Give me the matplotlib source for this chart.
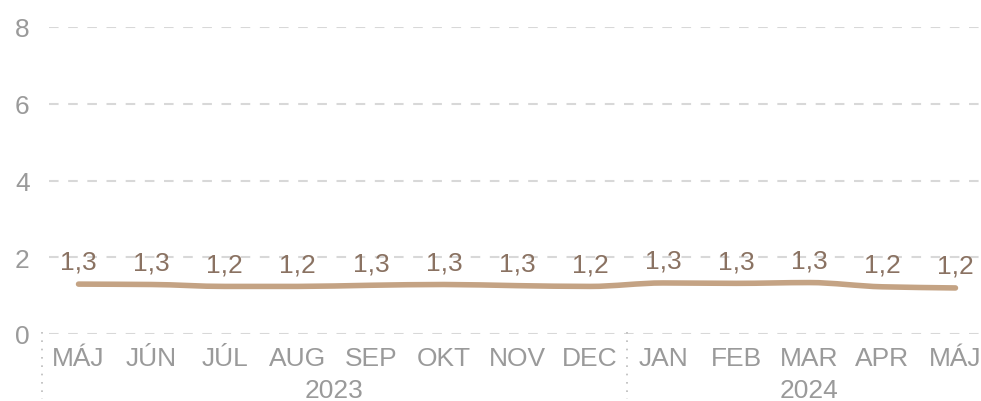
import matplotlib
matplotlib.use("Agg")
import matplotlib.pyplot as plt
from matplotlib.lines import Line2D
from matplotlib.path import Path
from matplotlib.patches import PathPatch

plt.rcParams['font.family'] = ['Liberation Sans', 'DejaVu Sans']

months = ["MÁJ", "JÚN", "JÚL", "AUG", "SEP", "OKT", "NOV", "DEC",
          "JAN", "FEB", "MAR", "APR", "MÁJ"]
years = ["2023", "2024"]
year_sizes = [8, 5]
values = [1.30, 1.29, 1.24, 1.24, 1.27, 1.29, 1.26, 1.24,
          1.33, 1.32, 1.34, 1.23, 1.20]
value_labels = ["1,3", "1,3", "1,2", "1,2", "1,3", "1,3", "1,3", "1,2",
                "1,3", "1,3", "1,3", "1,2", "1,2"]
yticks = [0, 2, 4, 6, 8]

LINE_COLOR = "#c4a384"
LABEL_COLOR = "#8a7262"
AXIS_TEXT = "#9a9a9a"
FS = 19


def monotone_path(xs, ys):
    """Cubic Bezier path with monotone (Fritsch-Carlson) tangents."""
    n = len(xs)
    d = [(ys[i + 1] - ys[i]) / (xs[i + 1] - xs[i]) for i in range(n - 1)]
    m = [0.0] * n
    m[0], m[-1] = d[0], d[-1]
    for i in range(1, n - 1):
        if d[i - 1] * d[i] <= 0:
            m[i] = 0.0
        else:
            m[i] = 2 / (1 / d[i - 1] + 1 / d[i])
    verts = [(xs[0], ys[0])]
    codes = [Path.MOVETO]
    for i in range(n - 1):
        h = xs[i + 1] - xs[i]
        verts += [(xs[i] + h / 3, ys[i] + m[i] * h / 3),
                  (xs[i + 1] - h / 3, ys[i + 1] - m[i + 1] * h / 3),
                  (xs[i + 1], ys[i + 1])]
        codes += [Path.CURVE4] * 3
    return Path(verts, codes)


W, H = 981, 402
fig = plt.figure(figsize=(W / 100, H / 100), dpi=100)
left, right, top, bottom = 42, 992, 28, 335
ax = fig.add_axes([left / W, 1 - bottom / H, (right - left) / W, (bottom - top) / H])

x = list(range(len(months)))
ax.set_xlim(-0.5, len(months) - 0.5)
ax.set_ylim(0, 8)

for yv in yticks:
    ax.axhline(yv, color="#d8d8d8", lw=1.5, linestyle=(0, (4.6, 4.6)),
               zorder=1, xmin=0.007)

ax.add_patch(PathPatch(monotone_path(x, values), facecolor="none",
                       edgecolor=LINE_COLOR, lw=4, capstyle="round",
                       joinstyle="round", zorder=3))

for xi, v, lab in zip(x, values, value_labels):
    ax.annotate(lab, (xi, v), xytext=(0, 16), textcoords="offset points",
                ha="center", va="center", fontsize=FS, color=LABEL_COLOR,
                zorder=4)

for s in ax.spines.values():
    s.set_visible(False)
ax.set_yticks(yticks)
ax.set_yticklabels([str(t) for t in yticks])
ax.tick_params(axis="y", length=0, pad=9, labelsize=FS, labelcolor=AXIS_TEXT)
ax.set_xticks(x)
ax.set_xticklabels(months)
ax.tick_params(axis="x", length=0, pad=9, labelsize=FS, labelcolor=AXIS_TEXT)

# group separators and year captions below the axis
start = 0
for yr, n in zip(years, year_sizes):
    xs = start - 0.5
    ax.add_line(Line2D([xs, xs], [0.05, -1.7], color="#bbbbbb", lw=1.2,
                       linestyle=(0, (1, 4)), clip_on=False))
    ax.text(start + (n - 1) / 2, -1.45, yr, ha="center", va="center",
            fontsize=FS, color=AXIS_TEXT, clip_on=False)
    start += n

fig.savefig("out.png", dpi=100)
